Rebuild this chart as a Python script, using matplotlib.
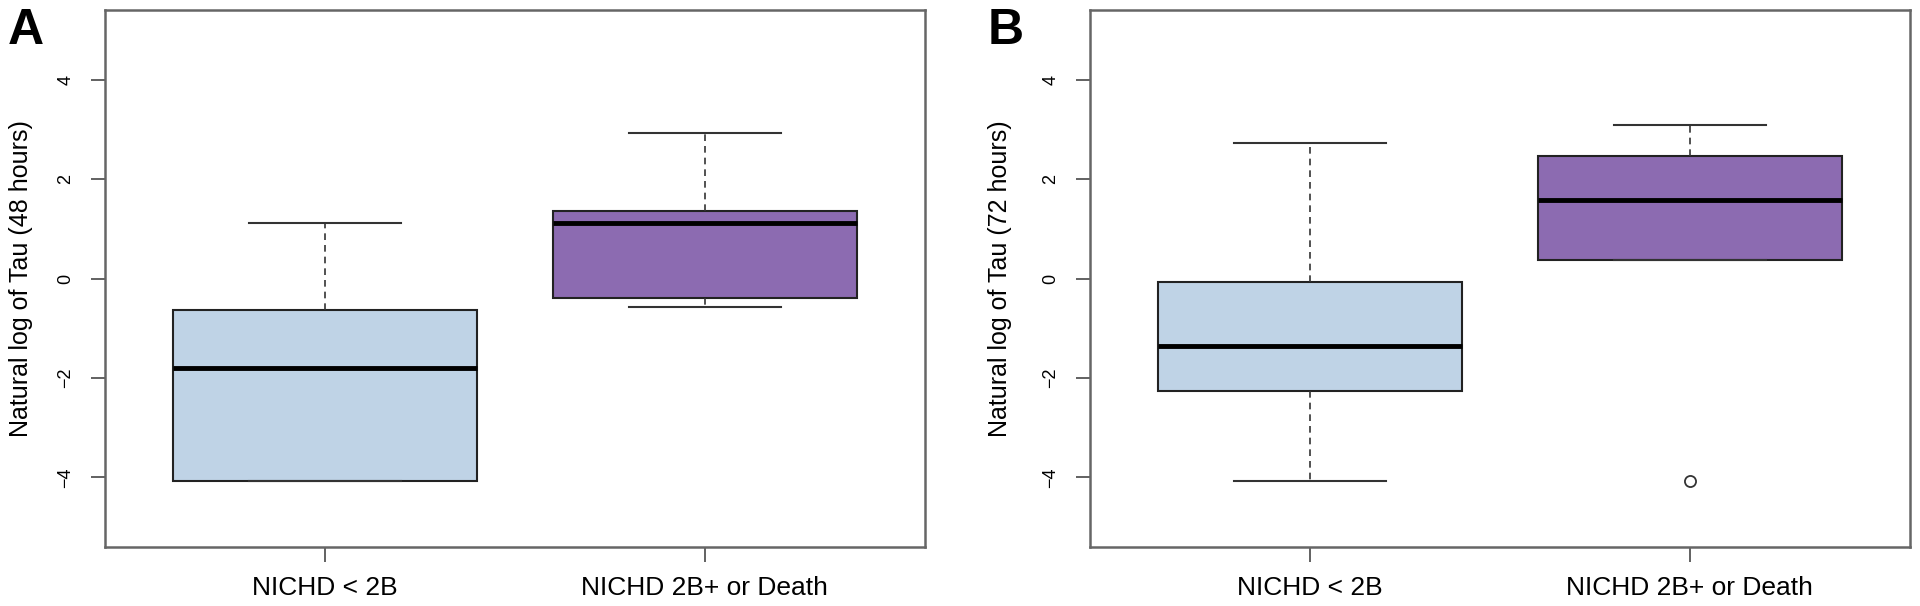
import numpy as np
import matplotlib
matplotlib.use("Agg")
import matplotlib.pyplot as plt

plt.rcParams['font.family'] = ['Liberation Sans', 'DejaVu Sans']

groups = ['NICHD < 2B', 'NICHD 2B+ or Death']
colors = ['#BFD3E6', '#8C6BB1']

# values (natural log of Tau)
# order: whisker low, Q1, median, Q3, whisker high
tau48_lo = [-4.08, -0.58]
tau48_q1 = [-4.08, -0.39]
tau48_med = [-1.79, 1.12]
tau48_q3 = [-0.63, 1.36]
tau48_hi = [1.11, 2.92]
tau48_out = [[], []]

tau72_lo = [-4.08, 0.38]
tau72_q1 = [-2.27, 0.38]
tau72_med = [-1.36, 1.57]
tau72_q3 = [-0.08, 2.47]
tau72_hi = [2.72, 3.08]
tau72_out = [[], [-4.08]]

panels = [
    ('A', 'Natural log of Tau (48 hours)', tau48_lo, tau48_q1, tau48_med, tau48_q3, tau48_hi, tau48_out),
    ('B', 'Natural log of Tau (72 hours)', tau72_lo, tau72_q1, tau72_med, tau72_q3, tau72_hi, tau72_out),
]

fig = plt.figure(figsize=(19.2, 6.06), dpi=100)
lefts = [105 / 1920, 1090 / 1920]
label_x = [-0.088, -0.095]
letter_x = [8 / 1920, 988 / 1920]

for i, (letter, ylab, lo, q1, med, q3, hi, out) in enumerate(panels):
    ax = fig.add_axes([lefts[i], 59 / 606, 820 / 1920, 537 / 606])
    stats = []
    for j in range(2):
        stats.append(dict(whislo=lo[j], q1=q1[j], med=med[j], q3=q3[j],
                          whishi=hi[j], fliers=out[j]))
    bp = ax.bxp(stats, positions=[1, 2], widths=0.8, patch_artist=True,
                showfliers=True,
                boxprops=dict(edgecolor='#222222', linewidth=1.5),
                medianprops=dict(color='black', linewidth=3.5),
                whiskerprops=dict(color='#333333', linewidth=1.2, linestyle=(0, (4, 3))),
                capprops=dict(color='#333333', linewidth=1.5),
                flierprops=dict(marker='o', markerfacecolor='none',
                                markeredgecolor='#333333', markersize=8,
                                markeredgewidth=1.3))
    for patch, c in zip(bp['boxes'], colors):
        patch.set_facecolor(c)
    for cap in bp['caps']:
        xs = cap.get_xdata()
        cx = np.mean(xs)
        cap.set_xdata([cx - 0.2, cx + 0.2])

    ax.set_xlim(0.42, 2.58)
    ax.set_ylim(-5.4, 5.4)
    ax.set_xticks([1, 2])
    ax.set_xticklabels(groups, fontsize=19)
    ax.set_yticks([-4, -2, 0, 2, 4])
    ax.set_yticklabels(['\u22124', '\u22122', '0', '2', '4'], fontsize=13,
                       rotation=90, va='center')
    ax.tick_params(axis='y', length=10, width=1.3, color='#555555', pad=12)
    ax.tick_params(axis='x', length=11, width=1.3, color='#555555', pad=10)
    for s in ax.spines.values():
        s.set_color('#666666')
        s.set_linewidth(1.8)
    ax.set_ylabel(ylab, fontsize=18)
    ax.yaxis.set_label_coords(label_x[i], 0.5)
    fig.text(letter_x[i], 1 - 8 / 606, letter, fontsize=36, fontweight='bold',
             ha='left', va='top')

fig.savefig('out.png', dpi=100)
